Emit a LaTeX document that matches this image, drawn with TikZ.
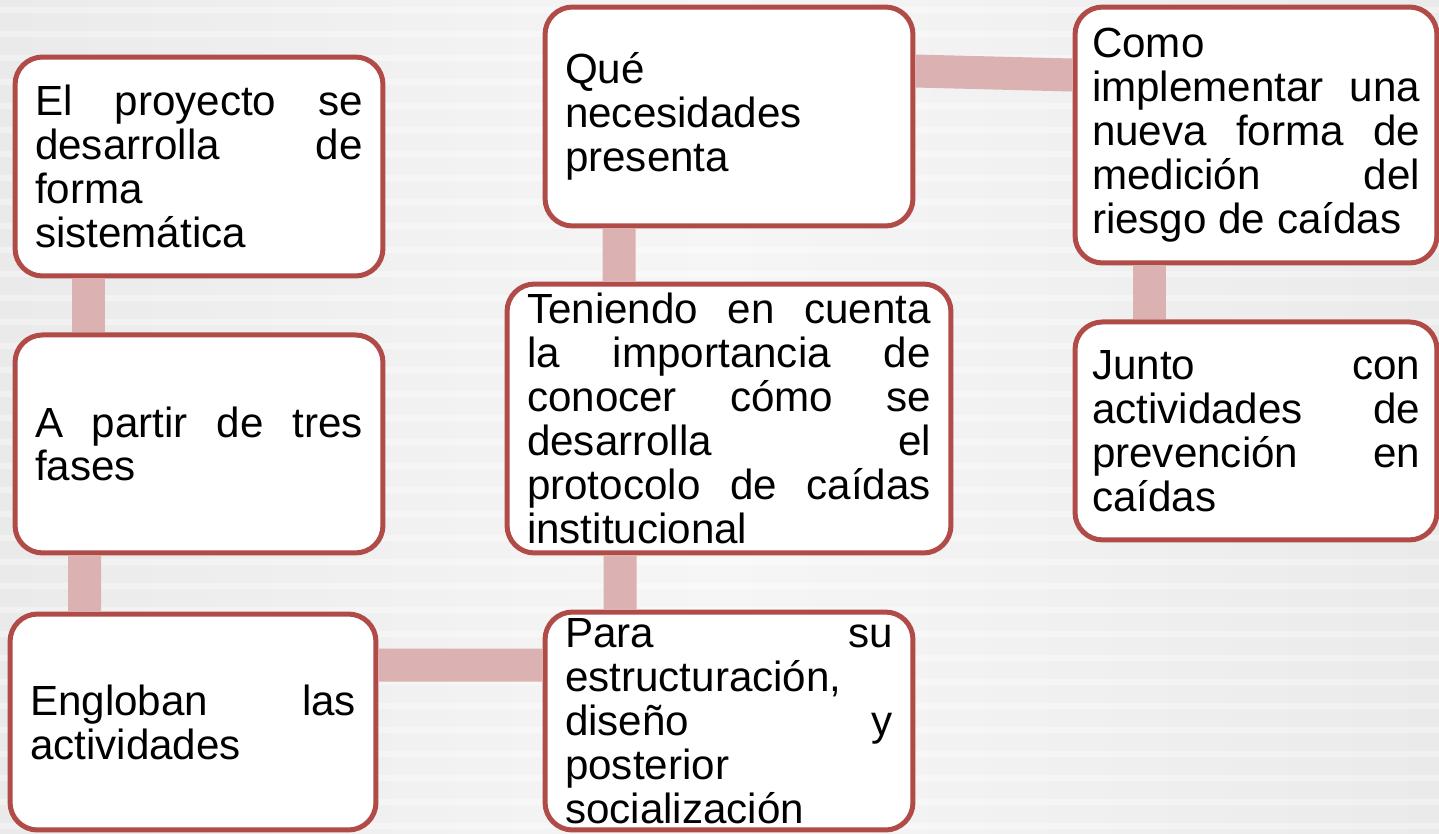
\documentclass[tikz,border=0pt]{standalone}
\usepackage{fontspec}
\setmainfont{Liberation Sans}
\usetikzlibrary{positioning}

\definecolor{boxred}{HTML}{B04B48}
\definecolor{barpink}{HTML}{DBB1B1}
\definecolor{bgedge}{HTML}{EAEAEA}
\definecolor{bgmid}{HTML}{F6F6F6}

\hyphenpenalty=10000
\exhyphenpenalty=10000
\tolerance=10000
\hbadness=10000

\begin{document}
\begin{tikzpicture}[
x=0.02cm, y=-0.02cm,
every node/.style={font=\fontsize{24}{25}\selectfont},
info box/.style={draw=boxred, fill=white, line width=0.1cm, rounded corners=0.55cm,
  align=justify, inner xsep=0.4cm, inner ysep=0pt},
bar/.style={draw=barpink, line width=0.66cm},
]

% Background
\useasboundingbox (0,0) rectangle (1439,833);
\shade[left color=bgedge, right color=bgedge, middle color=bgmid] (0,0) rectangle (1439,833);
\foreach \y in {10,34,...,833}
  \draw[white, opacity=0.35, line width=0.12cm] (0,\y) -- (1439,\y);

% Left column
\node[info box, text width=6.56cm, minimum height=4.38cm] (proyecto) at (199,166.5)
  {El proyecto se\linebreak desarrolla de\linebreak forma\linebreak sistemática};
\node[info box, text width=6.56cm, minimum height=4.36cm, below=1.08cm of proyecto] (fases)
  {A partir de tres\linebreak fases};
\node[info box, text width=6.52cm, minimum height=4.32cm] (engloban) at (193,722)
  {Engloban las\linebreak actividades};

% Middle column
\node[info box, text width=6.56cm, minimum height=4.36cm] (para) at (729,721)
  {Para su\linebreak estructuración,\linebreak diseño y\linebreak posterior\linebreak socialización};
\node[info box, text width=8.08cm, minimum height=5.38cm] (teniendo) at (729,418.5)
  {Teniendo en cuenta\linebreak la importancia de\linebreak conocer cómo se\linebreak desarrolla el\linebreak protocolo de caídas\linebreak institucional};
\node[info box, text width=6.56cm, minimum height=4.38cm] (necesidades) at (729,116.5)
  {Qué\linebreak necesidades\linebreak presenta};

% Right column
\node[info box, inner xsep=0.34cm, text width=6.56cm, minimum height=5.12cm] (medicion) at (1256,135)
  {Como\linebreak implementar una\linebreak nueva forma de\linebreak medición del\linebreak riesgo de caídas};
\node[info box, inner xsep=0.34cm, text width=6.56cm, minimum height=4.36cm, below=1.08cm of medicion] (junto)
  {Junto con\linebreak actividades de\linebreak prevención en\linebreak caídas};

% Connecting bars
\draw[bar] ([xshift=1.51cm]proyecto.south west) -- ([xshift=1.51cm]fases.north west);
\draw[bar] ([xshift=1.44cm]fases.south west) -- ([xshift=1.54cm]engloban.north west);
\draw[bar] ([yshift=-1.07cm]engloban.north east) -- ([yshift=-1.11cm]para.north west);
\draw[bar] ([xshift=1.55cm]para.north west) -- ([xshift=2.31cm]teniendo.south west);
\draw[bar] ([xshift=2.29cm]teniendo.north west) -- ([xshift=1.53cm]necesidades.south west);
\draw[bar] ([yshift=-1.33cm]necesidades.north east) -- ([yshift=-1.41cm]medicion.north west);
\draw[bar] ([xshift=1.53cm]medicion.south west) -- ([xshift=1.53cm]junto.north west);
\end{tikzpicture}
\end{document}
